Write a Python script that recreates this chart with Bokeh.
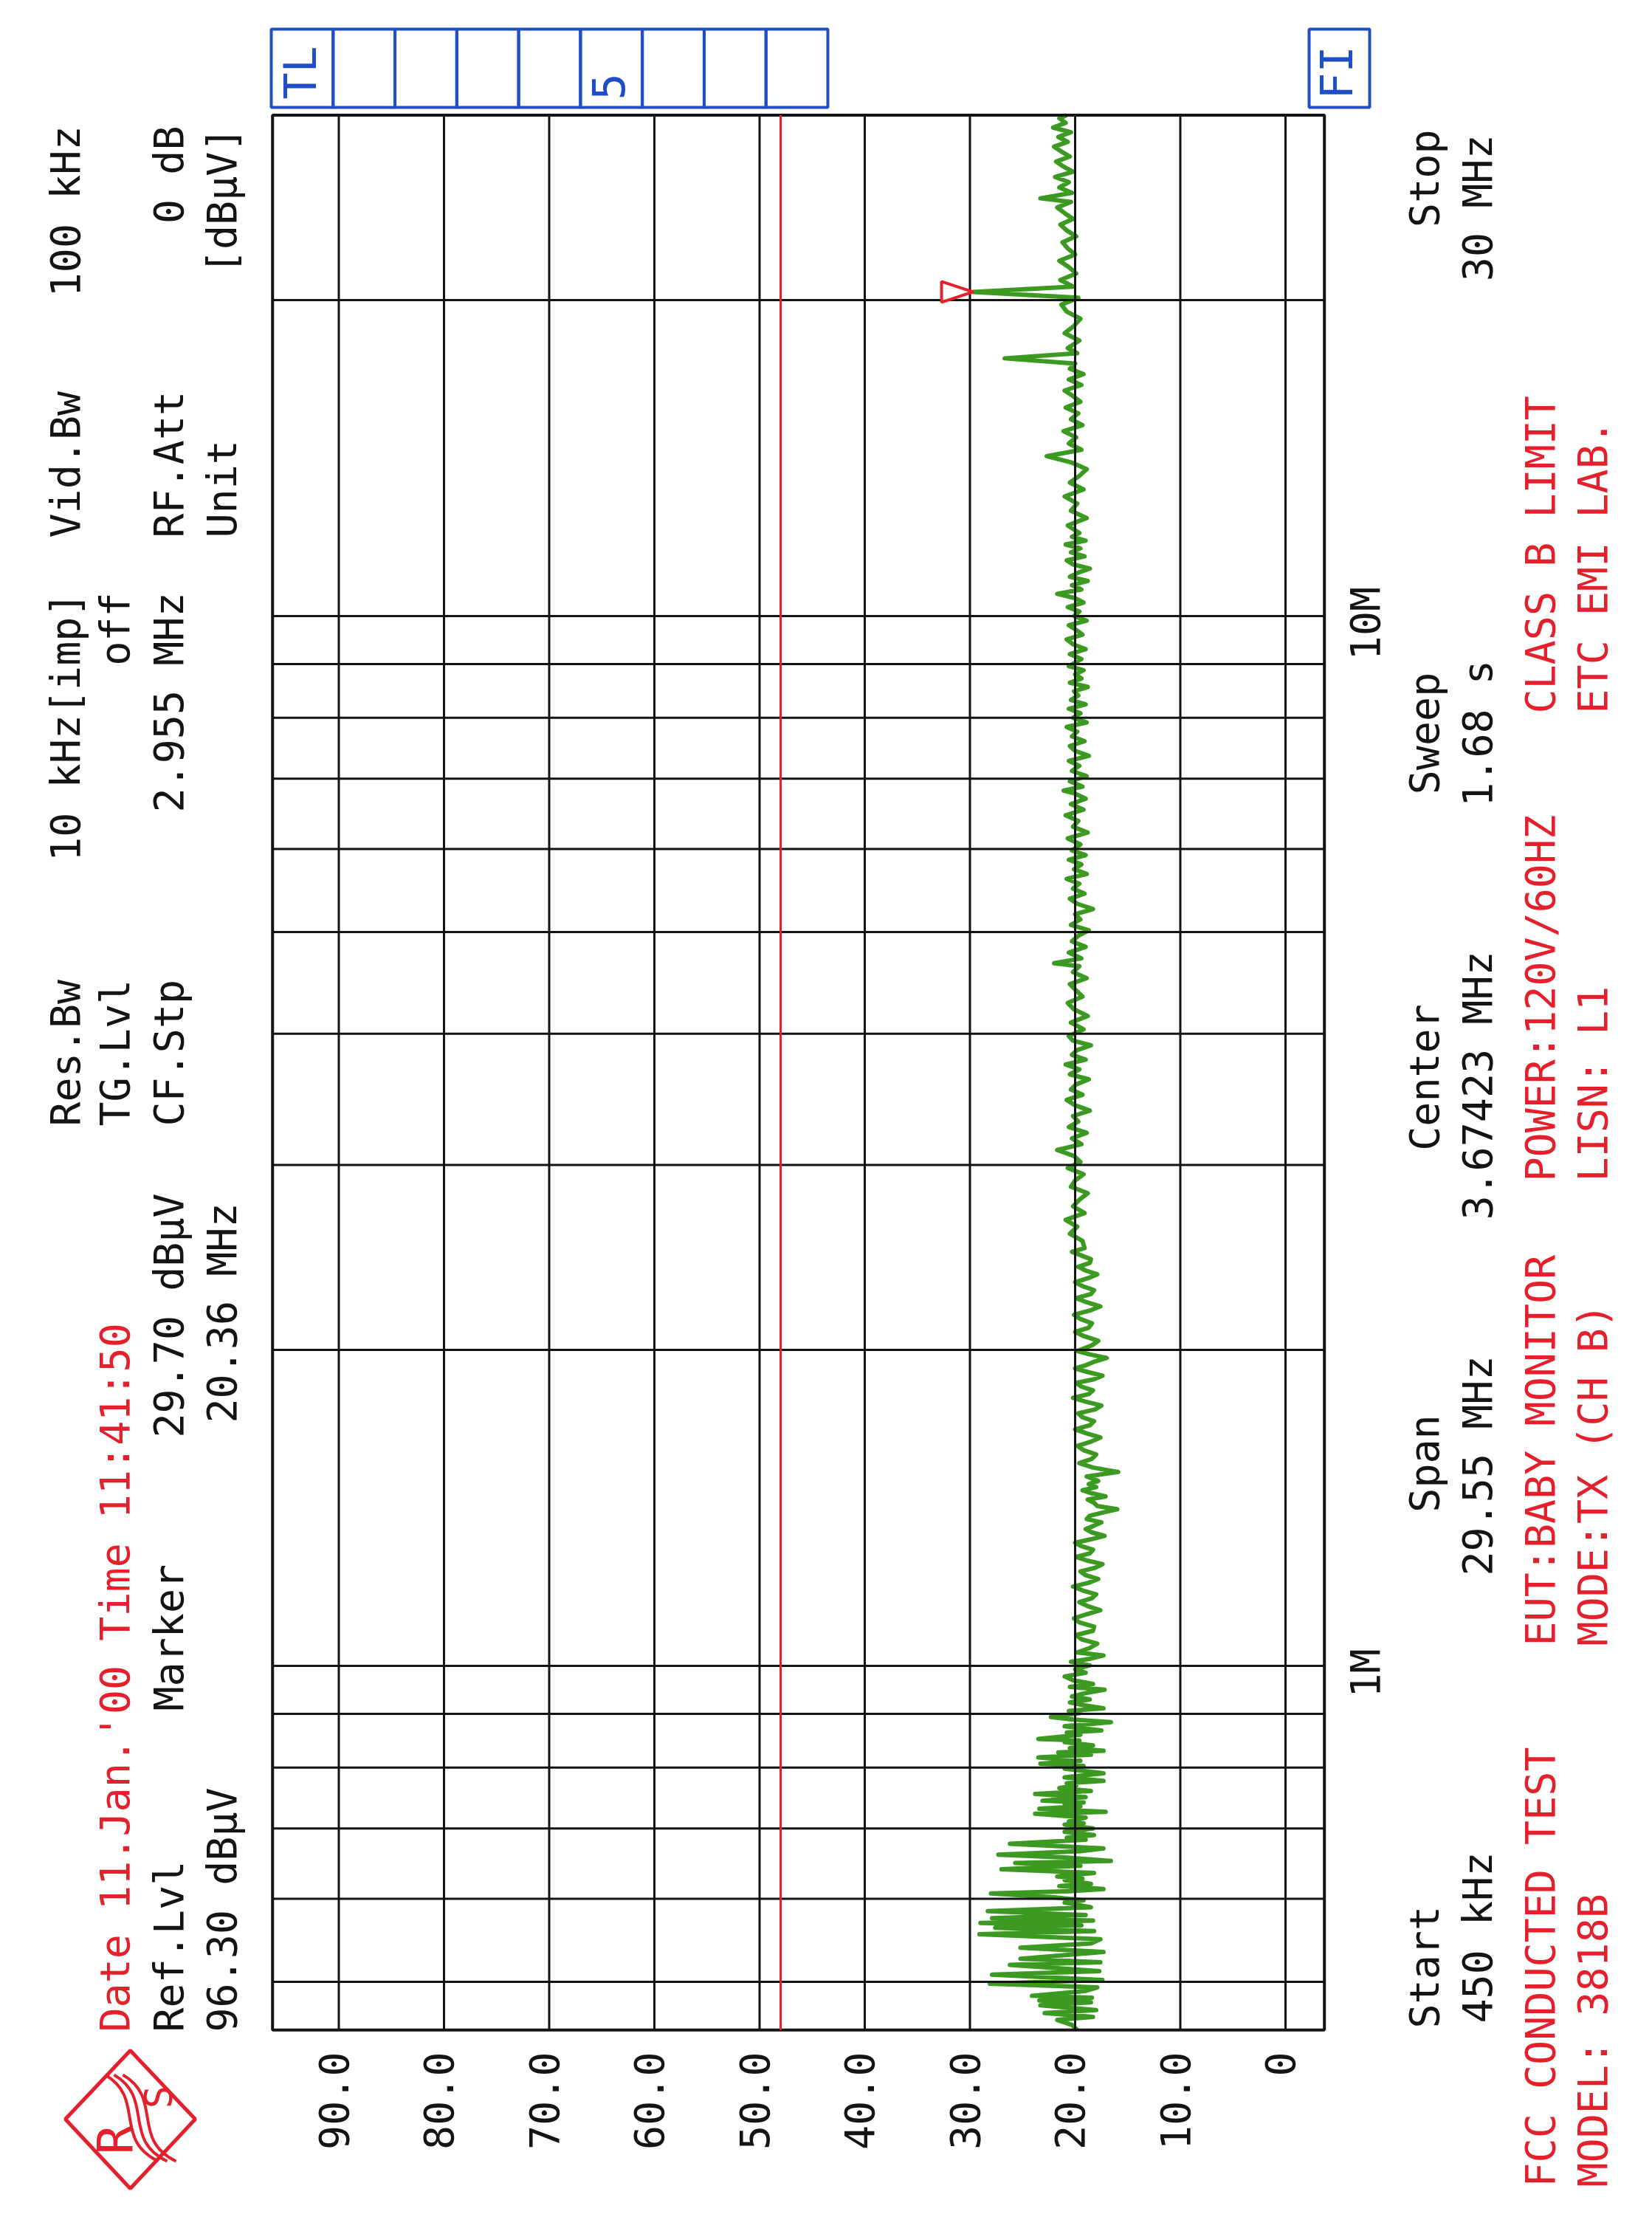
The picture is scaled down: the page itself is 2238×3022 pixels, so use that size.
import math
from bokeh.plotting import figure
from bokeh.models import Range1d
from bokeh.core.properties import value
from bokeh.embed import file_html
from bokeh.resources import INLINE

# --- instrument settings ---
ref_level = 96.3          # dBuV, left edge of the grid
db_span = 100.0           # 10 dB / div, 10 div
start_mhz = 0.45
stop_mhz = 30.0

db_grid = [0, 10, 20, 30, 40, 50, 60, 70, 80, 90]
db_tick_labels = ["0", "10.0", "20.0", "30.0", "40.0", "50.0", "60.0", "70.0", "80.0", "90.0"]

freq_grid_mhz = [0.5, 0.6, 0.7, 0.8, 0.9, 1, 2, 3, 4, 5, 6, 7, 8, 9, 10, 20]
freq_label_mhz = [1.0, 10.0]
freq_labels = ["1M", "10M"]

# FCC class B limit line
limit_mhz = [0.45, 30.0]
limit_dbuv = [48.0, 48.0]

marker_mhz = 20.36
marker_dbuv = 29.70

trace_mhz = [
    # 450 kHz .. 1 MHz
    0.450, 0.455, 0.460, 0.463, 0.467, 0.470, 0.475, 0.478, 0.480, 0.483,
    0.485, 0.490, 0.494, 0.498, 0.502, 0.508, 0.512, 0.519, 0.522, 0.526,
    0.534, 0.539, 0.544, 0.549, 0.555, 0.559, 0.563, 0.566, 0.569, 0.572,
    0.575, 0.579, 0.584, 0.589, 0.595, 0.598, 0.602, 0.607, 0.610, 0.613,
    0.617, 0.620, 0.625, 0.627, 0.630, 0.635, 0.640, 0.645, 0.649, 0.652,
    0.657, 0.661, 0.666, 0.670, 0.677, 0.683, 0.686, 0.690, 0.695, 0.700,
    0.706, 0.708, 0.711, 0.717, 0.723, 0.726, 0.731, 0.735, 0.739, 0.741,
    0.744, 0.750, 0.755, 0.760, 0.765, 0.769, 0.773, 0.777, 0.783, 0.790,
    0.798, 0.803, 0.807, 0.812, 0.818, 0.823, 0.827, 0.830, 0.835, 0.840,
    0.846, 0.849, 0.852, 0.860, 0.864, 0.868, 0.876, 0.884, 0.889, 0.894,
    0.902, 0.906, 0.911, 0.917, 0.923, 0.929, 0.935, 0.942, 0.949, 0.955,
    0.961, 0.969, 0.977, 0.985, 0.993, 1.001, 1.009, 1.016, 1.023,
    # 1 .. 2.5 MHz
    1.03, 1.04, 1.05, 1.06, 1.07, 1.08, 1.09, 1.10, 1.11, 1.12,
    1.13, 1.14, 1.15, 1.16, 1.17, 1.18, 1.19, 1.20, 1.21, 1.22,
    1.23, 1.24, 1.25, 1.26, 1.27, 1.28, 1.29, 1.30, 1.31, 1.32,
    1.33, 1.34, 1.35, 1.36, 1.37, 1.38, 1.39, 1.40, 1.41, 1.42,
    1.43, 1.44, 1.45, 1.46, 1.47, 1.48, 1.49, 1.50,
    1.515, 1.53, 1.545, 1.56, 1.575, 1.59, 1.605, 1.62, 1.635, 1.65,
    1.665, 1.68, 1.695, 1.71, 1.725, 1.74, 1.755, 1.77, 1.785, 1.80,
    1.815, 1.83, 1.845, 1.86, 1.875, 1.89, 1.905, 1.92, 1.935, 1.95,
    1.965, 1.98, 1.995,
    2.02, 2.04, 2.06, 2.08, 2.10, 2.12, 2.14, 2.16, 2.18, 2.20,
    2.22, 2.24, 2.26, 2.28, 2.30, 2.32, 2.34, 2.36, 2.38, 2.40,
    2.42, 2.44, 2.46, 2.48, 2.50,
    # 2.5 .. 9 MHz
    2.54, 2.58, 2.62, 2.66, 2.70, 2.74, 2.78, 2.82, 2.86, 2.90,
    2.94, 2.98, 3.02, 3.06, 3.10, 3.14, 3.18, 3.22, 3.26, 3.30,
    3.34, 3.38, 3.42, 3.46, 3.50, 3.54, 3.58, 3.62, 3.66, 3.70,
    3.74, 3.78, 3.82, 3.86, 3.90, 3.94, 3.98,
    4.04, 4.10, 4.16, 4.22, 4.28, 4.34, 4.40, 4.46, 4.52, 4.58,
    4.64, 4.67, 4.72, 4.78, 4.84, 4.90, 4.96, 5.02, 5.08, 5.14,
    5.20, 5.26, 5.32, 5.38, 5.44, 5.50, 5.56, 5.62, 5.68, 5.74,
    5.80, 5.86, 5.92, 5.98,
    6.06, 6.14, 6.22, 6.30, 6.38, 6.46, 6.54, 6.62, 6.70, 6.78,
    6.82, 6.88, 6.96, 7.04, 7.12, 7.20, 7.28, 7.36, 7.44, 7.52,
    7.60, 7.68, 7.76, 7.84, 7.92, 8.00, 8.08, 8.16, 8.24, 8.32,
    8.40, 8.48, 8.56, 8.64, 8.72, 8.80, 8.88, 8.96,
    # 9 .. 30 MHz
    9.1, 9.2, 9.3, 9.4, 9.5, 9.6, 9.7, 9.8, 9.9, 10.0,
    10.1, 10.2, 10.3, 10.4, 10.5, 10.6, 10.7, 10.8, 10.9, 11.0,
    11.1, 11.2, 11.3, 11.4, 11.5, 11.6, 11.7, 11.8, 11.9, 12.0,
    12.2, 12.4, 12.6, 12.8, 13.0, 13.2, 13.4, 13.6, 13.8, 14.0,
    14.2, 14.4, 14.6, 14.8, 15.0, 15.2, 15.4, 15.6, 15.8, 16.0,
    16.2, 16.4, 16.6, 16.8, 17.0, 17.2, 17.4, 17.6, 17.8, 18.0,
    18.3, 18.6, 18.9, 19.2, 19.5, 19.8, 20.1, 20.36, 20.6, 20.9,
    21.2, 21.5, 21.8, 22.1, 22.4, 22.7, 23.0, 23.3, 23.6, 23.9,
    24.2, 24.5, 24.8, 25.0, 25.3, 25.6, 25.9, 26.2, 26.5, 26.8,
    27.1, 27.4, 27.7, 28.0, 28.3, 28.6, 28.9, 29.2, 29.5, 29.8,
    30.0,
]
trace_dbuv = [
    19.8, 20.3, 21.7, 18.3, 22.9, 18.0, 23.3, 18.5, 23.4, 18.4,
    24.1, 19.1, 17.9, 28.1, 17.4, 27.9, 17.7, 26.2, 17.6, 25.2,
    17.3, 25.2, 18.5, 17.6, 29.1, 18.2, 27.6, 19.4, 29.0, 18.3,
    27.9, 19.0, 28.3, 18.5, 21.0, 19.2, 22.0, 28.0, 20.5, 17.3,
    21.5, 18.5, 21.0, 19.3, 21.7, 18.2, 27.0, 19.5, 25.7, 16.6,
    21.0, 27.3, 19.5, 17.3, 26.2, 19.0, 20.8, 18.2, 21.0, 18.3,
    21.0, 19.2, 20.6, 19.0, 23.8, 17.1, 23.4, 19.5, 21.0, 19.2,
    23.1, 19.0, 23.8, 18.5, 21.5, 19.9, 20.8, 17.3, 21.0, 17.3,
    21.0, 19.2, 23.3, 19.5, 23.5, 18.5, 21.6, 17.3, 20.5, 18.3,
    21.0, 19.6, 23.5, 19.5, 20.8, 17.5, 21.0, 16.6, 20.2, 22.3,
    19.5, 20.6, 17.3, 19.1, 20.5, 18.6, 20.3, 19.0, 17.2, 20.5,
    18.3, 20.2, 21.0, 19.0, 20.0, 18.6, 20.4, 18.5, 17.3,
    19.8, 18.6, 17.9, 19.4, 19.9, 18.3, 18.2, 19.6, 20.1, 18.9,
    17.6, 18.8, 19.6, 18.4, 18.0, 19.3, 20.2, 18.7, 17.8, 19.0,
    19.5, 18.1, 17.4, 18.9, 19.9, 18.6, 18.3, 19.4, 20.0, 18.5,
    17.2, 18.4, 19.0, 18.2, 17.5, 18.9, 18.6, 17.3, 16.0, 17.9,
    18.2, 18.8, 17.1, 18.4, 19.3, 18.0, 18.7, 17.8,
    18.9, 15.9, 18.3, 19.6, 18.4, 18.0, 19.2, 19.8, 18.5, 17.6,
    18.9, 20.0, 18.6, 18.2, 19.3, 19.7, 18.1, 17.5, 19.0, 20.2,
    18.7, 18.3, 19.4, 19.9, 18.2, 17.4, 18.8, 20.0, 18.9, 18.1,
    17.0, 18.6, 19.8,
    18.4, 17.8, 19.1, 20.0, 18.7, 18.4, 19.5, 20.1, 18.6, 17.6,
    18.9, 19.9, 18.5, 18.2, 19.3, 20.0, 18.8, 17.9, 19.0, 19.7,
    18.6, 18.5, 19.4, 20.3, 19.1,
    19.3, 20.5, 19.8, 20.9, 19.1, 20.2, 19.6, 18.8, 20.4, 20.0,
    19.2, 20.7, 19.5, 20.1, 21.7, 19.4, 20.3, 18.9, 20.6, 19.7,
    20.2, 18.6, 20.0, 20.8, 19.3, 20.4, 19.9, 18.7, 20.5, 19.6,
    20.9, 19.0, 20.3, 19.8, 18.5, 20.2, 20.6,
    19.2, 20.4, 18.8, 20.1, 20.7, 19.3, 19.9, 20.5, 18.9, 20.2,
    19.6, 22.0, 19.4, 20.6, 19.0, 20.3, 19.7, 18.7, 20.4, 19.5,
    20.0, 18.3, 19.8, 20.5, 19.1, 20.2, 19.6, 20.8, 18.9, 20.1,
    19.4, 20.6, 19.0, 20.3,
    19.5, 20.7, 18.8, 20.2, 19.7, 20.9, 19.2, 20.4, 19.0, 20.1,
    21.1, 19.3, 20.5, 18.9, 20.3, 19.6, 20.6, 18.7, 20.0, 20.5,
    19.1, 20.3, 19.8, 20.8, 18.9, 20.2, 19.5, 20.6, 19.0, 20.4,
    19.7, 20.1, 18.8, 20.5, 19.4, 20.0, 19.2, 20.6,
    19.4, 20.5, 19.0, 20.2, 20.8, 19.3, 19.9, 20.6, 18.9, 20.1,
    19.6, 20.7, 19.2, 20.0, 21.7, 19.4, 20.3, 18.8, 20.5, 19.7,
    18.6, 20.2, 20.8, 19.1, 20.4, 19.5, 20.9, 19.0, 20.3, 19.6,
    20.7, 18.9, 20.4, 19.8, 21.0, 19.2, 20.5, 19.6, 18.9, 20.3,
    22.7, 19.4, 20.6, 19.9, 21.1, 19.3, 20.4, 19.7, 20.9, 19.5,
    20.2, 21.0, 19.4, 20.6, 19.2, 20.5, 20.0, 26.7, 19.8, 20.7,
    19.6, 21.0, 20.1, 19.5, 20.8, 21.3, 19.7, 29.7, 20.2, 21.4,
    19.9, 20.6, 21.5, 20.0, 20.7, 21.2, 19.9, 20.8, 21.4, 20.2,
    21.0, 21.7, 20.4, 23.3, 20.3, 21.5, 20.6, 21.9, 20.2, 21.1,
    21.8, 20.5, 21.3, 22.0, 20.7, 21.6, 20.4, 22.1, 20.9, 21.5,
    20.8,
]

INK = "#141414"
RED = "#e3202b"
GREEN = "#3c9a22"
BLUE = "#1f4fc6"
MONO = "DejaVu Sans Mono"

# page geometry of the hard copy: 14.25 px per dB, 1422 px per decade
def db_at(px):
    return (1749 - px) / 14.25

def mhz_at(py):
    return 10 ** ((2264 - py) / 1422)

W, H = 2222, 3006
p = figure(width=W, height=H, output_backend="svg", toolbar_location=None,
           x_range=Range1d(db_at(8), db_at(8 + W)),
           y_range=Range1d(mhz_at(8 + H), mhz_at(8)),
           y_axis_type="log", x_axis_location=None, y_axis_location=None,
           min_border=0)
p.grid.visible = False
p.outline_line_color = None
p.background_fill_color = "white"
p.border_fill_color = "white"

# trace first, grid printed over it
p.line(trace_dbuv, trace_mhz, line_color=GREEN, line_width=6, line_join="round")

left_db = ref_level
right_db = ref_level - db_span
p.segment(x0=db_grid, y0=[start_mhz] * len(db_grid), x1=db_grid, y1=[stop_mhz] * len(db_grid),
          line_color=INK, line_width=3)
p.segment(x0=[left_db] * len(freq_grid_mhz), y0=freq_grid_mhz,
          x1=[right_db] * len(freq_grid_mhz), y1=freq_grid_mhz,
          line_color=INK, line_width=3)
p.quad(left=[left_db], right=[right_db], bottom=[start_mhz], top=[stop_mhz],
       fill_color=None, line_color=INK, line_width=4)

p.line(limit_dbuv, limit_mhz, line_color=RED, line_width=3)

# marker triangle, tip on the peak
p.patch([marker_dbuv, marker_dbuv + 3.0, marker_dbuv + 3.0],
        [marker_mhz, marker_mhz * 1.023, marker_mhz / 1.023],
        fill_color="white", line_color=RED, line_width=4)


# rotated text; px is the centre of the letters across the line, py where the line starts/ends
def label(txt, px, py, align="left", color=INK, size=55):
    p.text(x=[db_at(px)], y=[mhz_at(py)], text=[txt], angle=math.pi / 2,
           text_align=align, text_baseline="middle", text_color=color,
           text_font=value(MONO), text_font_size=f"{size}px")


# level tick labels
p.text(x=[d + 0.5 for d in db_grid], y=[mhz_at(2787)] * len(db_grid), text=db_tick_labels,
       angle=math.pi / 2, text_align="right", text_baseline="middle", text_color=INK,
       text_font=value(MONO), text_font_size="55px")
# frequency labels
p.text(x=[db_at(1857)] * len(freq_label_mhz), y=freq_label_mhz, text=freq_labels,
       angle=math.pi / 2, text_align="center", text_baseline="middle", y_offset=10,
       text_color=INK, text_font=value(MONO), text_font_size="55px")

# header block
label("Res.Bw", 96, 1533)
label("10 kHz[imp]", 96, 810, "right")
label("Vid.Bw", 96, 736)
label("100 kHz", 96, 178, "right")
label("TG.Lvl", 163, 1533)
label("off", 163, 810, "right")
label("CF.Stp", 236, 1533)
label("2.955 MHz", 236, 810, "right")
label("RF.Att", 236, 736)
label("0 dB", 236, 178, "right")
label("Unit", 308, 736)
label("[dB\u00b5V]", 308, 180, "right")

label("Date 11.Jan.'00  Time 11:41:50", 163, 2760, color=RED)
label("Ref.Lvl", 236, 2760)
label("96.30 dB\u00b5V", 308, 2760)
label("Marker", 236, 2325)
label("29.70 dB\u00b5V", 236, 1955)
label("20.36 MHz", 308, 1935)

# footer block
label("Start", 1937, 2755)
label("450 kHz", 2009, 2748)
label("Span", 1937, 1990, "center")
label("29.55 MHz", 2009, 1993, "center")
label("Center", 1937, 1467, "center")
label("3.67423 MHz", 2009, 1478, "center")
label("Sweep", 1937, 1001, "center")
label("1.68 s", 2009, 1001, "center")
label("Stop", 1937, 183, "right")
label("30 MHz", 2009, 190, "right")

label("FCC CONDUCTED TEST", 2094, 2970, color=RED)
label("MODEL: 3818B", 2165, 2970, color=RED)
label("EUT:BABY MONITOR", 2094, 2237, color=RED)
label("MODE:TX (CH B)", 2165, 2237, color=RED)
label("POWER:120V/60HZ", 2094, 1608, color=RED)
label("LISN: L1", 2165, 1608, color=RED)
label("CLASS B LIMIT", 2094, 974, color=RED)
label("ETC EMI LAB.", 2165, 974, color=RED)

# status boxes above the grid
cell = (1129 - 375) / 9
for i in range(9):
    p.quad(left=[db_at(375 + i * cell)], right=[db_at(375 + (i + 1) * cell)],
           bottom=[mhz_at(153)], top=[mhz_at(47)],
           fill_color=None, line_color=BLUE, line_width=4)
p.quad(left=[db_at(1781)], right=[db_at(1863)], bottom=[mhz_at(153)], top=[mhz_at(47)],
       fill_color=None, line_color=BLUE, line_width=4)
label("TL", 414, 142, color=BLUE, size=60)
label("5", 831, 143, color=BLUE, size=60)
label("FI", 1818, 142, color=BLUE, size=60)

# R&S logo
p.patch([db_at(184), db_at(272), db_at(184), db_at(96)],
        [mhz_at(2785), mhz_at(2878), mhz_at(2972), mhz_at(2878)],
        fill_color=None, line_color=RED, line_width=5)
label("R", 164, 2906, "center", color=RED, size=66)
label("S", 222, 2848, "center", color=RED, size=52)
for k in range(3):
    dx = 12 * k
    p.bezier(x0=[db_at(150 + dx)], y0=[mhz_at(2818)], x1=[db_at(222 + dx)], y1=[mhz_at(2935)],
             cx0=[db_at(205 + dx)], cy0=[mhz_at(2850)], cx1=[db_at(160 + dx)], cy1=[mhz_at(2905)],
             line_color=RED, line_width=4)

open("out.html", "w").write(file_html(p, INLINE))
